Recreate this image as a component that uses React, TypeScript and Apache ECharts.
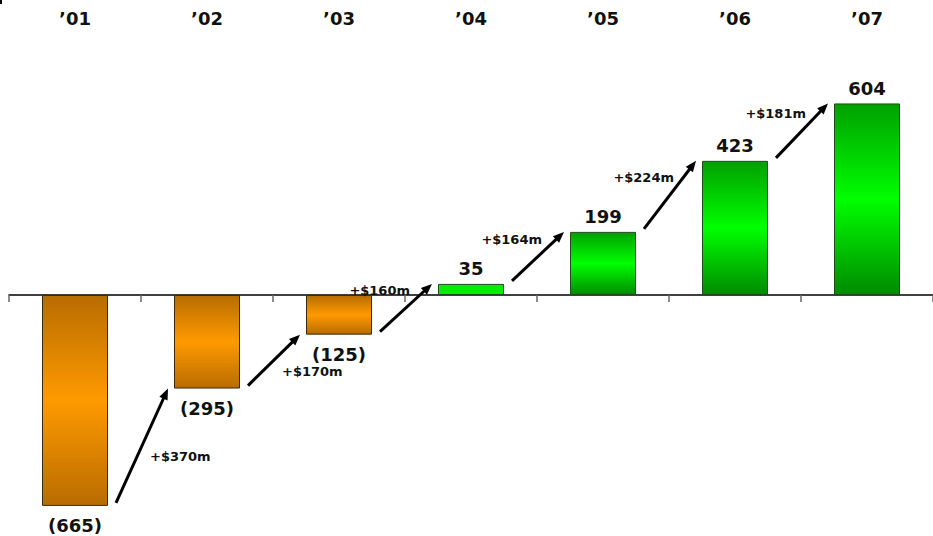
import React, { useEffect, useRef } from "react";
import * as echarts from "echarts";

const categories = ["\u201901", "\u201902", "\u201903", "\u201904", "\u201905", "\u201906", "\u201907"];
const values = [-665, -295, -125, 35, 199, 423, 604];
const deltaLabels = ["+$370m", "+$170m", "+$160m", "+$164m", "+$224m", "+$181m"];

const FONT = "'DejaVu Sans', Verdana, sans-serif";

const orangeGrad = () =>
  new echarts.graphic.LinearGradient(0, 0, 0, 1, [
    { offset: 0, color: "#b86c00" },
    { offset: 0.5, color: "#ff9a00" },
    { offset: 1, color: "#b86c00" },
  ]);
const greenGrad = () =>
  new echarts.graphic.LinearGradient(0, 0, 0, 1, [
    { offset: 0, color: "#00a000" },
    { offset: 0.5, color: "#00ff00" },
    { offset: 1, color: "#008a00" },
  ]);

export default function App() {
  const ref = useRef<HTMLDivElement>(null);
  useEffect(() => {
    if (!ref.current) return;
    const chart = echarts.init(ref.current, null, { renderer: "svg" });

    const barData = values.map((v) => ({
      value: v,
      itemStyle: {
        color: v < 0 ? orangeGrad() : v < 100 ? "#00ee00" : greenGrad(),
        borderColor: v < 0 ? "#3a2a10" : "#1f4a1f",
        borderWidth: 1,
      },
      label: {
        show: true,
        position: v < 0 ? "bottom" : "top",
        distance: v < 0 ? 11 : 6,
        formatter: v < 0 ? `(${-v})` : `${v}`,
      },
    }));

    const arrowData = deltaLabels.map((d, i) => [i, values[i], values[i + 1], d]);

    const renderArrow = (params: any, api: any) => {
      const i = api.value(0) as number;
      const v0 = api.value(1) as number;
      const v1 = api.value(2) as number;
      const text = deltaLabels[params.dataIndex];
      const p0 = api.coord([i, v0]);
      const p1 = api.coord([i + 1, v1]);
      const band = api.size([1, 0])[0];
      const half = band * 0.25;
      const tail = [p0[0] + half + 8, p0[1] - 3];
      const head = [p1[0] - half - 6, p1[1]];
      const dx = head[0] - tail[0];
      const dy = head[1] - tail[1];
      const len = Math.sqrt(dx * dx + dy * dy);
      const ux = dx / len;
      const uy = dy / len;
      const nx = -uy;
      const ny = ux;
      const hl = 11;
      const hw = 4.5;
      const base = [head[0] - ux * hl, head[1] - uy * hl];
      const mid = [(tail[0] + head[0]) / 2, (tail[1] + head[1]) / 2];
      const below = v1 < 0;
      return {
        type: "group",
        children: [
          {
            type: "line",
            shape: { x1: tail[0], y1: tail[1], x2: base[0] + ux * 2, y2: base[1] + uy * 2 },
            style: { stroke: "#000", lineWidth: 3 },
          },
          {
            type: "polygon",
            shape: {
              points: [
                head,
                [base[0] + nx * hw, base[1] + ny * hw],
                [base[0] - nx * hw, base[1] - ny * hw],
              ],
            },
            style: { fill: "#000" },
          },
          {
            type: "text",
            x: below ? mid[0] + 8 : mid[0] + 4,
            y: below ? mid[1] + 11 : mid[1] - 17,
            style: {
              text,
              fill: "#111",
              font: `bold 13px ${FONT}`,
              align: below ? "left" : "right",
              verticalAlign: "middle",
            },
          },
        ],
      };
    };

    chart.setOption({
      animation: false,
      backgroundColor: "#ffffff",
      textStyle: { fontFamily: FONT },
      grid: { left: 9, right: 0, top: 73, bottom: 19, containLabel: false },
      xAxis: [
        {
          type: "category",
          data: categories,
          position: "bottom",
          axisLine: { onZero: true, lineStyle: { color: "#000", width: 1.5 } },
          axisTick: { show: true, length: 7, lineStyle: { color: "#666", width: 1.5 } },
          axisLabel: { show: false },
          splitLine: { show: false },
        },
        {
          type: "category",
          data: categories,
          position: "top",
          axisLine: { show: false, onZero: false },
          axisTick: { show: false },
          axisLabel: {
            show: true,
            margin: 46,
            fontSize: 18,
            fontWeight: "bold",
            color: "#111",
            fontFamily: FONT,
          },
        },
      ],
      yAxis: {
        type: "value",
        min: -700,
        max: 700,
        show: false,
        splitLine: { show: false },
      },
      graphic: [
        { type: "rect", shape: { x: 0, y: 0, width: 2, height: 4 }, style: { fill: "#000" } },
      ],
      series: [
        {
          type: "bar",
          xAxisIndex: 0,
          barWidth: "50%",
          data: barData,
          label: {
            show: true,
            fontSize: 18,
            fontWeight: "bold",
            color: "#111",
            fontFamily: FONT,
          },
        },
        {
          type: "custom",
          xAxisIndex: 0,
          renderItem: renderArrow,
          data: arrowData,
          encode: { x: 0, y: 1 },
          clip: false,
          z: 5,
        },
      ],
    });
    return () => chart.dispose();
  }, []);
  return (
    <div
      ref={ref}
      style={{ position: "fixed", left: 0, top: 0, width: 933, height: 536, background: "#fff" }}
    />
  );
}
